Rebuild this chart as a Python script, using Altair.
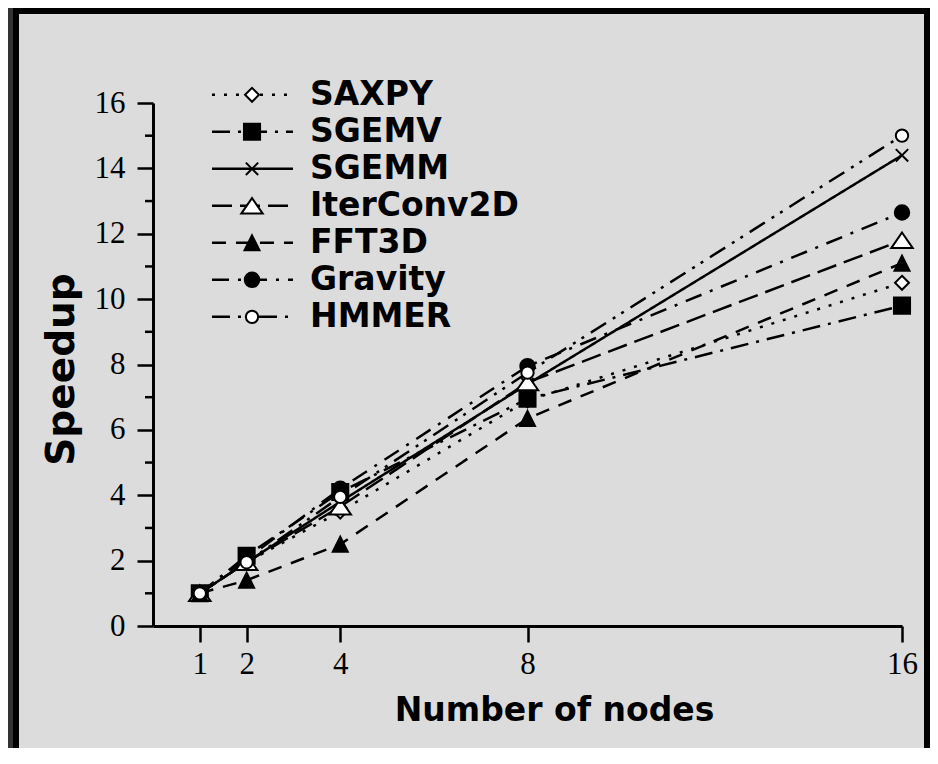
import altair as alt
import pandas as pd

# ---- data ----
nodes = [1, 2, 4, 8, 16]
series = ["SAXPY", "SGEMV", "SGEMM", "IterConv2D", "FFT3D", "Gravity", "HMMER"]
saxpy = [1, 1.95, 3.5, 6.9, 10.5]
sgemv = [1, 2.15, 4.1, 6.95, 9.8]
sgemm = [1, 1.95, 3.8, 7.4, 14.4]
iterconv2d = [1, 1.95, 3.65, 7.45, 11.8]
fft3d = [1, 1.4, 2.5, 6.35, 11.1]
gravity = [1, 2.05, 4.2, 7.95, 12.65]
hmmer = [1, 1.95, 3.95, 7.75, 15.0]
x_ticks = [1, 2, 4, 8, 16]
y_major = [0, 2, 4, 6, 8, 10, 12, 14, 16]
y_minor = [1, 3, 5, 7, 9, 11, 13, 15]

values = [saxpy, sgemv, sgemm, iterconv2d, fft3d, gravity, hmmer]
rows = []
for s, vals in zip(series, values):
    for n, v in zip(nodes, vals):
        rows.append({"series": s, "nodes": n, "speedup": v})
df = pd.DataFrame(rows)

# ---- styles ----
dashes = [[3, 9], [18, 8, 3, 8], [1, 0], [20, 8], [14, 10], [17, 9, 3, 9], [18, 8, 3, 7, 3, 8]]
shapes = [
    "M0,-1.3L1.3,0L0,1.3L-1.3,0Z",
    "M-1.5,-1.5L1.5,-1.5L1.5,1.5L-1.5,1.5Z",
    "M-1.15,-1.15L1.15,1.15M-1.15,1.15L1.15,-1.15",
    "M0,-1.45L2.0,1.45L-2.0,1.45Z",
    "M0,-1.4L1.4,1.4L-1.4,1.4Z",
    "M-1.35,0A1.35,1.35 0 1,0 1.35,0A1.35,1.35 0 1,0 -1.35,0Z",
    "M-1.15,0A1.15,1.15 0 1,0 1.15,0A1.15,1.15 0 1,0 -1.15,0Z",
]
fills = ["white", "black", "transparent", "white", "black", "black", "white"]

xs = alt.Scale(domain=[0, 16], nice=False, zero=False)
ys = alt.Scale(domain=[0, 16], nice=False, zero=False)
dash_scale = alt.Scale(domain=series, range=dashes)
shape_scale = alt.Scale(domain=series, range=shapes)
fill_scale = alt.Scale(domain=series, range=fills)

# legend layout (data units)
leg_rows = []
for i, s in enumerate(series):
    ly = 16.25 - 1.132 * i
    leg_rows.append({"series": s, "lx": 1.26, "ly": ly})
    leg_rows.append({"series": s, "lx": 2.99, "ly": ly})
leg_seg = pd.DataFrame(leg_rows)
leg = pd.DataFrame({"series": series})
leg["ly"] = [16.25 - 1.132 * i for i in range(len(series))]
leg["lxm"] = 2.115
leg["ltx"] = 3.354

frame = alt.Chart(pd.DataFrame({"a": [0]})).mark_rect(
    fillOpacity=0, stroke="black", strokeWidth=6
).encode(
    x=alt.value(-137), x2=alt.value(774), y=alt.value(-92), y2=alt.value(690)
)
edge = alt.Chart(pd.DataFrame({"a": [0]})).mark_rect(fill="#333333").encode(
    x=alt.value(-150), x2=alt.value(-140), y=alt.value(-100), y2=alt.value(690)
)

lines = alt.Chart(df).mark_line(color="black", strokeWidth=2.5, strokeCap="butt").encode(
    x=alt.X("nodes:Q", scale=xs, axis=alt.Axis(
        values=x_ticks, tickSize=16, labelPadding=7, title="Number of nodes",
        titleFontSize=33, titleX=401, titleY=94, titleAlign="center",
        titleBaseline="alphabetic", orient="bottom", zindex=1)),
    y=alt.Y("speedup:Q", scale=ys, axis=alt.Axis(
        values=y_major, tickSize=16, labelPadding=12, title="Speedup",
        titleFontSize=39, titleX=-80, titleY=266, titleAngle=270, titleAlign="center",
        titleBaseline="alphabetic", orient="left", zindex=1)),
    strokeDash=alt.StrokeDash("series:N", scale=dash_scale, legend=None),
)

# minor ticks on the y axis (half-length), positioned through the y scale
minor = alt.Chart(pd.DataFrame({"speedup": y_minor})).mark_rule(
    color="black", strokeWidth=2.5
).encode(
    y=alt.Y("speedup:Q", scale=ys),
    x=alt.value(-8), x2=alt.value(0),
)

points = alt.Chart(df).mark_point(filled=True, stroke="black", strokeWidth=2, opacity=1, size=115).encode(
    x=alt.X("nodes:Q", scale=xs),
    y=alt.Y("speedup:Q", scale=ys),
    shape=alt.Shape("series:N", scale=shape_scale, legend=None),
    fill=alt.Fill("series:N", scale=fill_scale, legend=None),
)

leg_lines = alt.Chart(leg_seg).mark_line(color="black", strokeWidth=2.5, strokeCap="butt").encode(
    x=alt.X("lx:Q", scale=xs),
    y=alt.Y("ly:Q", scale=ys),
    strokeDash=alt.StrokeDash("series:N", scale=dash_scale, legend=None),
)

leg_points = alt.Chart(leg).mark_point(filled=True, stroke="black", strokeWidth=2, opacity=1, size=115).encode(
    x=alt.X("lxm:Q", scale=xs),
    y=alt.Y("ly:Q", scale=ys),
    shape=alt.Shape("series:N", scale=shape_scale, legend=None),
    fill=alt.Fill("series:N", scale=fill_scale, legend=None),
)

leg_text = alt.Chart(leg).mark_text(
    align="left", baseline="middle", font="DejaVu Sans", fontSize=33,
    fontWeight="bold", color="black"
).encode(
    x=alt.X("ltx:Q", scale=xs),
    y=alt.Y("ly:Q", scale=ys),
    text="series:N",
)

chart = alt.layer(edge, frame, lines, minor, points, leg_lines, leg_points, leg_text).properties(
    width=749, height=523,
    autosize=alt.AutoSizeParams(type="none"),
    padding={"left": 145, "top": 95, "right": 28, "bottom": 122},
    background="#dcdcdc",
).configure_view(stroke=None).configure_axis(
    domainColor="black", domainWidth=3, tickColor="black", tickWidth=2.5,
    labelColor="black", labelFont="Liberation Serif", labelFontSize=31,
    titleColor="black", titleFont="DejaVu Sans", titleFontWeight="bold", grid=False,
    labelFlush=False, labelOverlap=False,
)

chart.save("out.html", embed_options={"renderer": "svg", "actions": False})
